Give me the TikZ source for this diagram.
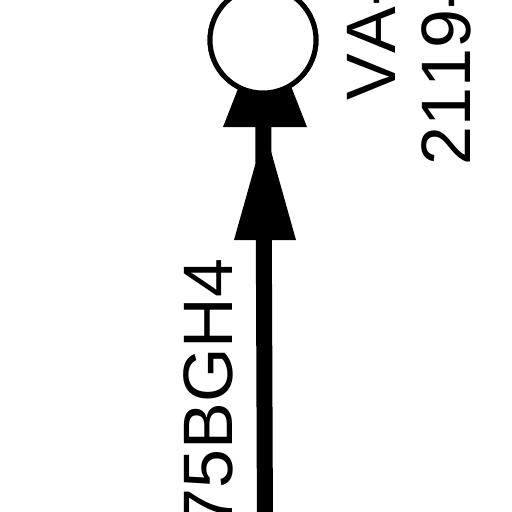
\documentclass[tikz,border=0pt]{standalone}
\usepackage{fontspec}
\setmainfont{Liberation Sans}[Kerning=Off]
\begin{document}
\begin{tikzpicture}[x=1pt,y=-1pt,
  lbl/.style={inner sep=0pt,outer sep=0pt,rotate=90,font=\fontsize{70}{84}\selectfont},
  headshape/.style={fill=black,draw=none},
  ring/.style={circle,draw=black,line width=5pt,fill=white,minimum size=106pt,inner sep=0pt}]
\useasboundingbox[fill=white] (0,0) rectangle (512,512);
\coordinate (bot) at (265,530);
\node[ring] (c) at (263,40) {};
% stem
\draw[line width=16pt] (bot) -- (c.center);
% lower arrowhead
\fill[headshape] (234,240) -- (296,240) -- (265,130) -- cycle;
% upper arrowhead (tip hidden by circle)
\fill[headshape] (223,127) -- (307,127) -- (265,20) -- cycle;
% circle on top
\node[ring] at (c) {};
\node[lbl,anchor=base east] (t1) at (232,259) {75BGH4};
\node[lbl,anchor=base west] (t2) at (395,100) {VA-};
\node[lbl,anchor=base west] (t3) at (470,165) {2119-};
\end{tikzpicture}
\end{document}
